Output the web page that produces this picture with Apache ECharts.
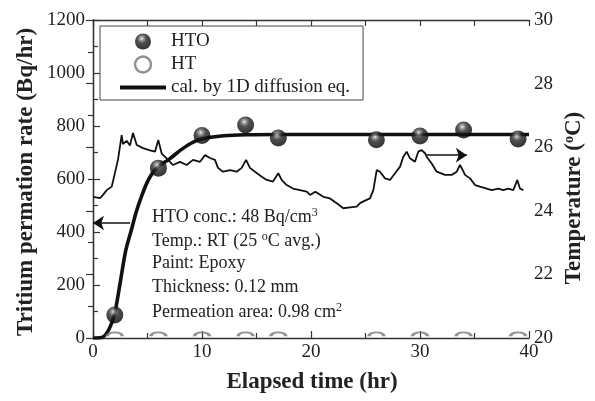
<!DOCTYPE html>
<html>
<head>
<meta charset="utf-8">
<script src="https://cdn.jsdelivr.net/npm/echarts@6/dist/echarts.min.js"></script>
<style>
html, body { margin: 0; padding: 0; background: #fff; }
#chart { width: 595px; height: 401px; }
</style>
</head>
<body>
<div id="chart"></div>
<script>
var serif = "'Liberation Serif', 'Times New Roman', serif";

// sampling times (hr) and measured permeation rates (Bq/hr)
var sampleTimes = [2, 6, 10, 14, 17, 26, 30, 34, 39];
var htoRate = [87, 641, 764, 804, 755, 748, 762, 785, 751];
var htRate = [0, 0, 0, 0, 0, 0, 0, 0, 0];

// calculated curve (1D diffusion)
var fitTime = [0, 0.8, 1.2, 1.6, 2.0, 2.5, 3.0, 3.5, 4.0, 4.5, 5.0, 5.5, 6.0, 7, 8, 9, 10, 12, 14, 17, 20, 30, 40];
var fitRate = [0, 2, 15, 45, 94, 210, 330, 405, 480, 540, 590, 625, 648, 675, 708, 735, 752, 763, 767, 768, 768, 768, 768];

// room temperature record (degC)
var tempTime = [0.03, 0.64, 0.92, 1.26, 1.72, 2.02, 2.29, 2.63, 2.75, 3.09, 3.39, 3.67, 4.01, 4.59, 5.23, 5.69, 5.99, 6.30, 6.76, 7.34,
  7.98, 8.60, 9.17, 9.82, 10.28, 10.73, 11.19, 11.47, 11.93, 12.57, 13.18, 13.64, 14.04, 14.40, 14.86, 15.48, 15.94, 16.51, 17.0, 17.31,
  17.77, 18.35, 18.99, 19.61, 19.91, 20.4, 21.13, 21.74, 22.36, 22.96, 23.58, 24.19, 24.50, 24.95, 25.41, 25.72, 26.03, 26.33, 26.79, 27.25,
  27.71, 28.17, 28.47, 28.78, 29.08, 29.54, 29.84, 30.16, 30.46, 30.61, 31.07, 31.53, 32.29, 32.91, 33.37, 33.67, 33.92, 34.13, 34.59, 35.05,
  35.50, 36.12, 36.58, 37.18, 37.64, 38.10, 38.56, 38.93, 39.17, 39.48];
var tempValue = [24.44, 24.40, 24.50, 24.65, 24.76, 25.20, 25.60, 26.38, 26.10, 26.20, 26.05, 26.45, 26.07, 25.97, 25.90, 25.86, 26.23, 25.80, 25.65, 25.44,
  25.54, 25.44, 25.60, 25.54, 25.75, 25.66, 25.60, 25.35, 25.23, 25.28, 25.23, 25.35, 25.60, 25.35, 25.23, 25.07, 24.97, 24.92, 25.18, 24.97,
  24.81, 24.70, 24.65, 24.60, 24.50, 24.60, 24.44, 24.39, 24.24, 24.08, 24.11, 24.13, 24.24, 24.32, 24.39, 24.65, 25.28, 25.23, 25.02, 24.97,
  25.18, 25.39, 25.70, 25.86, 25.65, 25.54, 25.86, 25.91, 25.81, 25.70, 25.49, 25.23, 25.13, 25.13, 25.23, 25.44, 25.28, 25.13, 25.02, 24.81,
  24.76, 24.70, 24.65, 24.70, 24.65, 24.70, 24.65, 24.97, 24.70, 24.65];

// arrows pointing to the axis each curve belongs to
var leftArrowTime = [3.4, 0];
var leftArrowRate = 434;
var rightArrowTime = [30.6, 34.3];
var rightArrowTemp = 25.75;

var notes = [
  'HTO conc.: 48 Bq/cm{sup|3}',
  'Temp.: RT (25 {sup|o}C avg.)',
  'Paint: Epoxy',
  'Thickness: 0.12 mm',
  'Permeation area: 0.98 cm{sup|2}'
];

function pairs(xs, ys) {
  return xs.map(function (x, i) { return [x, ys[i]]; });
}

var chart = echarts.init(document.getElementById('chart'));

var axisLine = { lineStyle: { color: '#333', width: 1.3 } };
var tick = { inside: true, length: 7, lineStyle: { color: '#333', width: 1.2 } };
var minor = { show: true, splitNumber: 2, length: 5, lineStyle: { color: '#333', width: 1.2 } };
var lbl = { fontFamily: serif, fontSize: 19, color: '#222', formatter: function (v) { return String(v); } };

var sphere = {
  type: 'radial', x: 0.42, y: 0.32, r: 0.68,
  colorStops: [
    { offset: 0, color: '#f2f2f2' },
    { offset: 0.16, color: '#8a8a8a' },
    { offset: 0.42, color: '#262626' },
    { offset: 1, color: '#000' }
  ]
};

var supRich = { sup: { fontSize: 12, fontFamily: serif, color: '#222', verticalAlign: 'top', padding: [0, 0, 9, 0] } };

var graphics = notes.map(function (t, i) {
  return {
    type: 'text', left: 152, top: 207 + i * 23.7,
    style: { text: t, fontFamily: serif, fontSize: 18, fill: '#222', rich: supRich }
  };
});
graphics.push({
  type: 'text', x: 26, y: 182, rotation: Math.PI / 2,
  style: { text: 'Tritium permation rate (Bq/hr)', fontFamily: serif, fontSize: 23, fontWeight: 'bold', fill: '#222',
    align: 'center', verticalAlign: 'middle' }
});
graphics.push({
  type: 'text', x: 574, y: 198, rotation: Math.PI / 2,
  style: { text: 'Temperature ({s|o}C)', fontFamily: serif, fontSize: 23, fontWeight: 'bold', fill: '#222',
    align: 'center', verticalAlign: 'middle',
    rich: { s: { fontSize: 14, fontFamily: serif, fontWeight: 'bold', fill: '#222', verticalAlign: 'top', padding: [0, 0, 10, 0] } } }
});
graphics.push({
  type: 'text', x: 312, y: 382,
  style: { text: 'Elapsed time (hr)', fontFamily: serif, fontSize: 23, fontWeight: 'bold', fill: '#222',
    align: 'center', verticalAlign: 'middle' }
});

var option = {
  animation: false,
  backgroundColor: '#fff',
  grid: { left: 93, right: 66, top: 20, bottom: 63 },
  legend: {
    left: 100, top: 26, orient: 'vertical',
    itemWidth: 46, itemHeight: 16, itemGap: 4,
    padding: [6, 13, 3, 20],
    borderColor: '#444', borderWidth: 1,
    textStyle: { fontFamily: serif, fontSize: 19, color: '#222', lineHeight: 19 },
    data: [
      { name: 'HTO' },
      { name: 'HT', icon: 'circle', itemStyle: { color: '#fff', borderColor: '#777', borderWidth: 2.5 } },
      { name: 'cal. by 1D diffusion eq.', icon: 'path://M0,0H46V4H0Z', itemStyle: { color: '#111' } }
    ]
  },
  xAxis: [
    {
      type: 'value', position: 'bottom', min: 0, max: 40, interval: 10,
      axisLine: axisLine, axisTick: tick, minorTick: minor,
      axisLabel: Object.assign({ margin: 5 }, lbl),
      splitLine: { show: false }
    },
    {
      type: 'value', position: 'top', min: 0, max: 40, interval: 5,
      axisLine: axisLine, axisTick: { inside: true, length: 6, lineStyle: { color: '#333', width: 1.2 } },
      axisLabel: { show: false }, splitLine: { show: false }
    }
  ],
  yAxis: [
    {
      type: 'value', position: 'left', min: 0, max: 1200, interval: 200,
      axisLine: Object.assign({ show: true }, axisLine), axisTick: tick, minorTick: minor,
      axisLabel: Object.assign({ margin: 8 }, lbl),
      splitLine: { show: false }
    },
    {
      type: 'value', position: 'right', min: 20, max: 30, interval: 2,
      axisLine: Object.assign({ show: true }, axisLine), axisTick: tick, minorTick: minor,
      axisLabel: Object.assign({ margin: 5 }, lbl),
      splitLine: { show: false }
    }
  ],
  series: [
    {
      name: 'Temperature', type: 'line', yAxisIndex: 1, z: 2,
      data: pairs(tempTime, tempValue),
      showSymbol: false, symbol: 'none',
      lineStyle: { color: '#111', width: 1.8 },
      markLine: {
        silent: true, symbol: ['none', 'arrow'], symbolSize: 11,
        label: { show: false },
        lineStyle: { color: '#111', width: 1.5, type: 'solid' },
        data: [[{ coord: [rightArrowTime[0], rightArrowTemp] }, { coord: [rightArrowTime[1], rightArrowTemp] }]]
      }
    },
    {
      name: 'cal. by 1D diffusion eq.', type: 'line', yAxisIndex: 0, z: 3,
      data: pairs(fitTime, fitRate),
      smooth: 0.3, showSymbol: false, symbol: 'none',
      itemStyle: { color: '#111' },
      lineStyle: { color: '#111', width: 3.6 },
      markLine: {
        silent: true, symbol: ['none', 'arrow'], symbolSize: 11,
        label: { show: false },
        lineStyle: { color: '#111', width: 1.5, type: 'solid' },
        data: [[{ coord: [leftArrowTime[0], leftArrowRate] }, { coord: [leftArrowTime[1], leftArrowRate] }]]
      }
    },
    {
      name: 'HT', type: 'scatter', yAxisIndex: 0, z: 4,
      data: pairs(sampleTimes, htRate),
      symbol: 'path://M0,10C0,4.5,4.5,0,10,0C15.5,0,20,4.5,20,10', symbolKeepAspect: true,
      symbolSize: [15, 7.5], symbolOffset: [0, -3.75],
      itemStyle: { color: 'rgba(0,0,0,0)', borderColor: '#777', borderWidth: 2.5 }
    },
    {
      name: 'HTO', type: 'scatter', yAxisIndex: 0, z: 5,
      data: pairs(sampleTimes, htoRate),
      symbol: 'circle', symbolSize: 17,
      itemStyle: { color: sphere }
    }
  ],
  graphic: graphics
};

chart.setOption(option);
</script>
</body>
</html>
